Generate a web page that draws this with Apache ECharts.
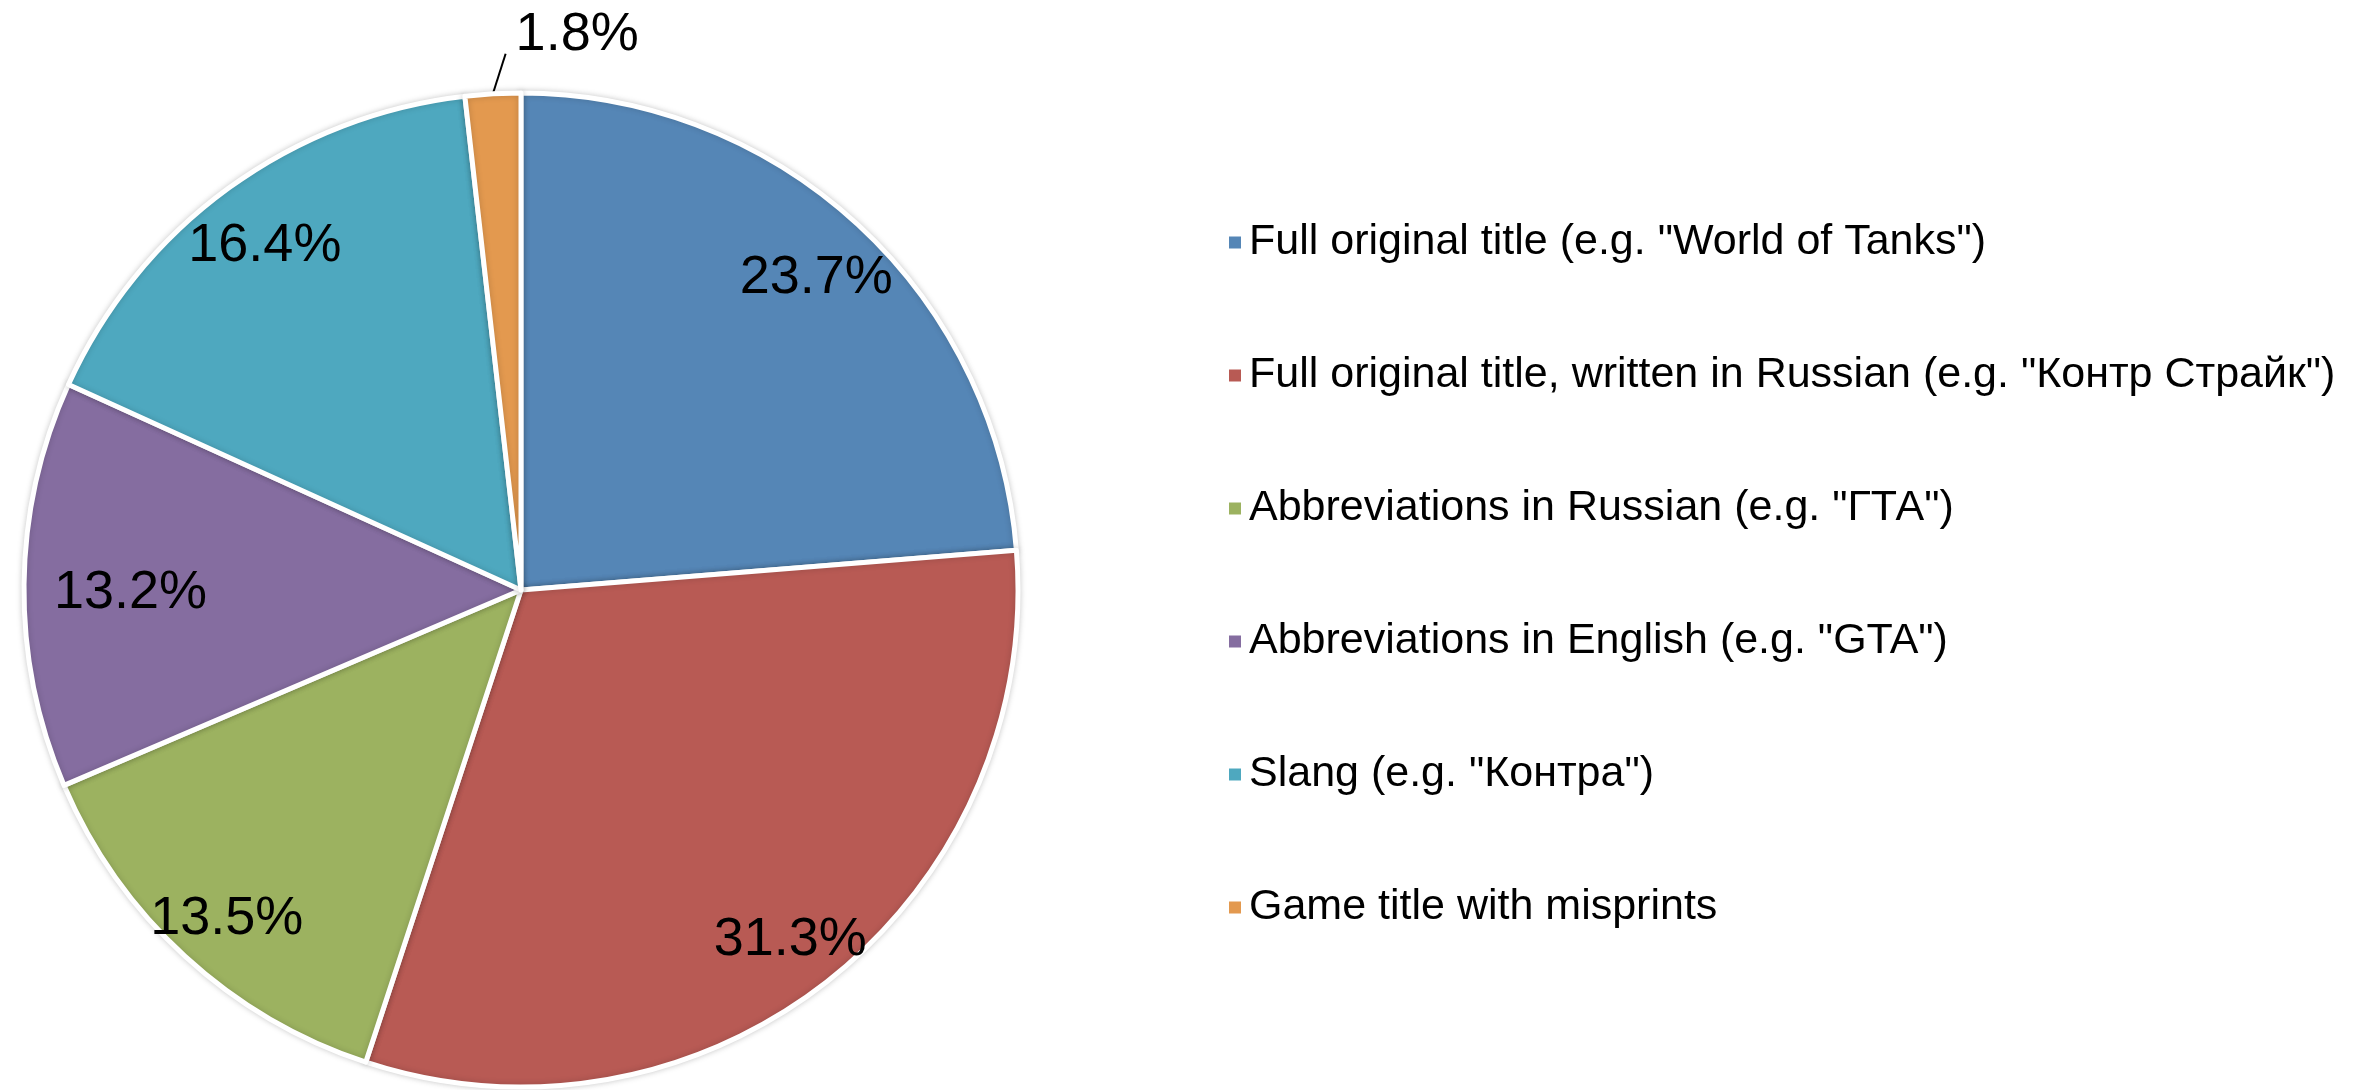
<!DOCTYPE html>
<html>
<head>
<meta charset="utf-8">
<script src="https://cdn.jsdelivr.net/npm/echarts@6/dist/echarts.min.js"></script>
<style>
  html, body { margin: 0; padding: 0; background: #ffffff; }
  #chart { width: 2359px; height: 1090px; }
</style>
</head>
<body>
<div id="chart"></div>
<script>
// Ways respondents refer to a game title (share of answers, %)
const categories = [
  'Full original title (e.g. "World of Tanks")',
  'Full original title, written in Russian (e.g. "Контр Страйк")',
  'Abbreviations in Russian (e.g. "ГТА")',
  'Abbreviations in English (e.g. "GTA")',
  'Slang (e.g. "Контра")',
  'Game title with misprints'
];
const shares = [23.7, 31.3, 13.5, 13.2, 16.4, 1.8];
const sliceColors = ['#5586B6', '#B85A54', '#9CB260', '#856DA0', '#4EA8BF', '#E3994F'];

// slices that are too thin for an inside label get an outside label with a leader line
const OUTSIDE_LIMIT = 5;

const FONT = '"Liberation Sans", Arial, sans-serif';
const CENTER = [521, 590];
const R = 497;
const LABEL_GAP = 30;

const fmt = p => p.value.toFixed(1) + '%';

const sliceData = categories.map((name, i) => ({
  name,
  value: shares[i],
  itemStyle: { color: sliceColors[i] },
  label: { show: shares[i] < OUTSIDE_LIMIT },
  labelLine: { show: shares[i] < OUTSIDE_LIMIT }
}));

// transparent ring used only to place the inside labels near the rim
const ringData = categories.map((name, i) => ({
  name,
  value: shares[i],
  label: { show: shares[i] >= OUTSIDE_LIMIT }
}));

// outside label: put the text to the right of the leader line and aim the line at it
function outsideLabelLayout(p) {
  if (shares[p.dataIndex] >= OUTSIDE_LIMIT || !p.labelLinePoints) return {};
  const r = p.labelRect;
  const dx = r.width + 30;
  const dy = -19;
  const start = p.labelLinePoints[0];
  const end = [r.x + dx - 10, r.y + dy + r.height * 0.85];
  return { dx, dy, labelLinePoints: [start, end, end] };
}

// inside labels: if a label pokes out of the pie, pull it back in horizontally
function insideLabelLayout(p) {
  const r = p.labelRect;
  const cy = r.y + r.height / 2;
  const half = Math.sqrt(Math.max(0, R * R - (cy - CENTER[1]) * (cy - CENTER[1])));
  const left = CENTER[0] - half;
  const right = CENTER[0] + half;
  if (r.x < left) return { dx: left + LABEL_GAP - r.x };
  if (r.x + r.width > right) return { dx: right - LABEL_GAP - (r.x + r.width) };
  return {};
}

const chart = echarts.init(document.getElementById('chart'), null, { renderer: 'canvas' });
chart.setOption({
  animation: false,
  backgroundColor: '#ffffff',
  legend: {
    orient: 'vertical',
    left: 1222,
    top: 216,
    itemWidth: 14,
    itemHeight: 14,
    itemGap: 90,
    icon: 'rect',
    data: categories,
    textStyle: { fontFamily: FONT, fontSize: 43, color: '#000000', padding: [0, 0, 0, 2] },
    selectedMode: false
  },
  series: [
    {
      type: 'pie',
      center: CENTER,
      radius: [0, R],
      startAngle: 90,
      clockwise: true,
      silent: true,
      itemStyle: {
        borderColor: '#ffffff',
        borderWidth: 5,
        shadowBlur: 6,
        shadowColor: 'rgba(0,0,0,0.18)'
      },
      label: {
        position: 'outside',
        formatter: fmt,
        fontFamily: FONT,
        fontSize: 54,
        color: '#000000'
      },
      labelLine: {
        length: 40,
        length2: 0,
        smooth: false,
        lineStyle: { color: '#000000', width: 2 }
      },
      labelLayout: outsideLabelLayout,
      data: sliceData
    },
    {
      type: 'pie',
      center: CENTER,
      radius: [R * 0.74, R],
      startAngle: 90,
      clockwise: true,
      silent: true,
      itemStyle: { color: 'rgba(0,0,0,0)' },
      label: {
        position: 'inside',
        formatter: fmt,
        fontFamily: FONT,
        fontSize: 54,
        color: '#000000',
        offset: [0, 8]
      },
      labelLine: { show: false },
      labelLayout: insideLabelLayout,
      data: ringData
    }
  ]
});
</script>
</body>
</html>
